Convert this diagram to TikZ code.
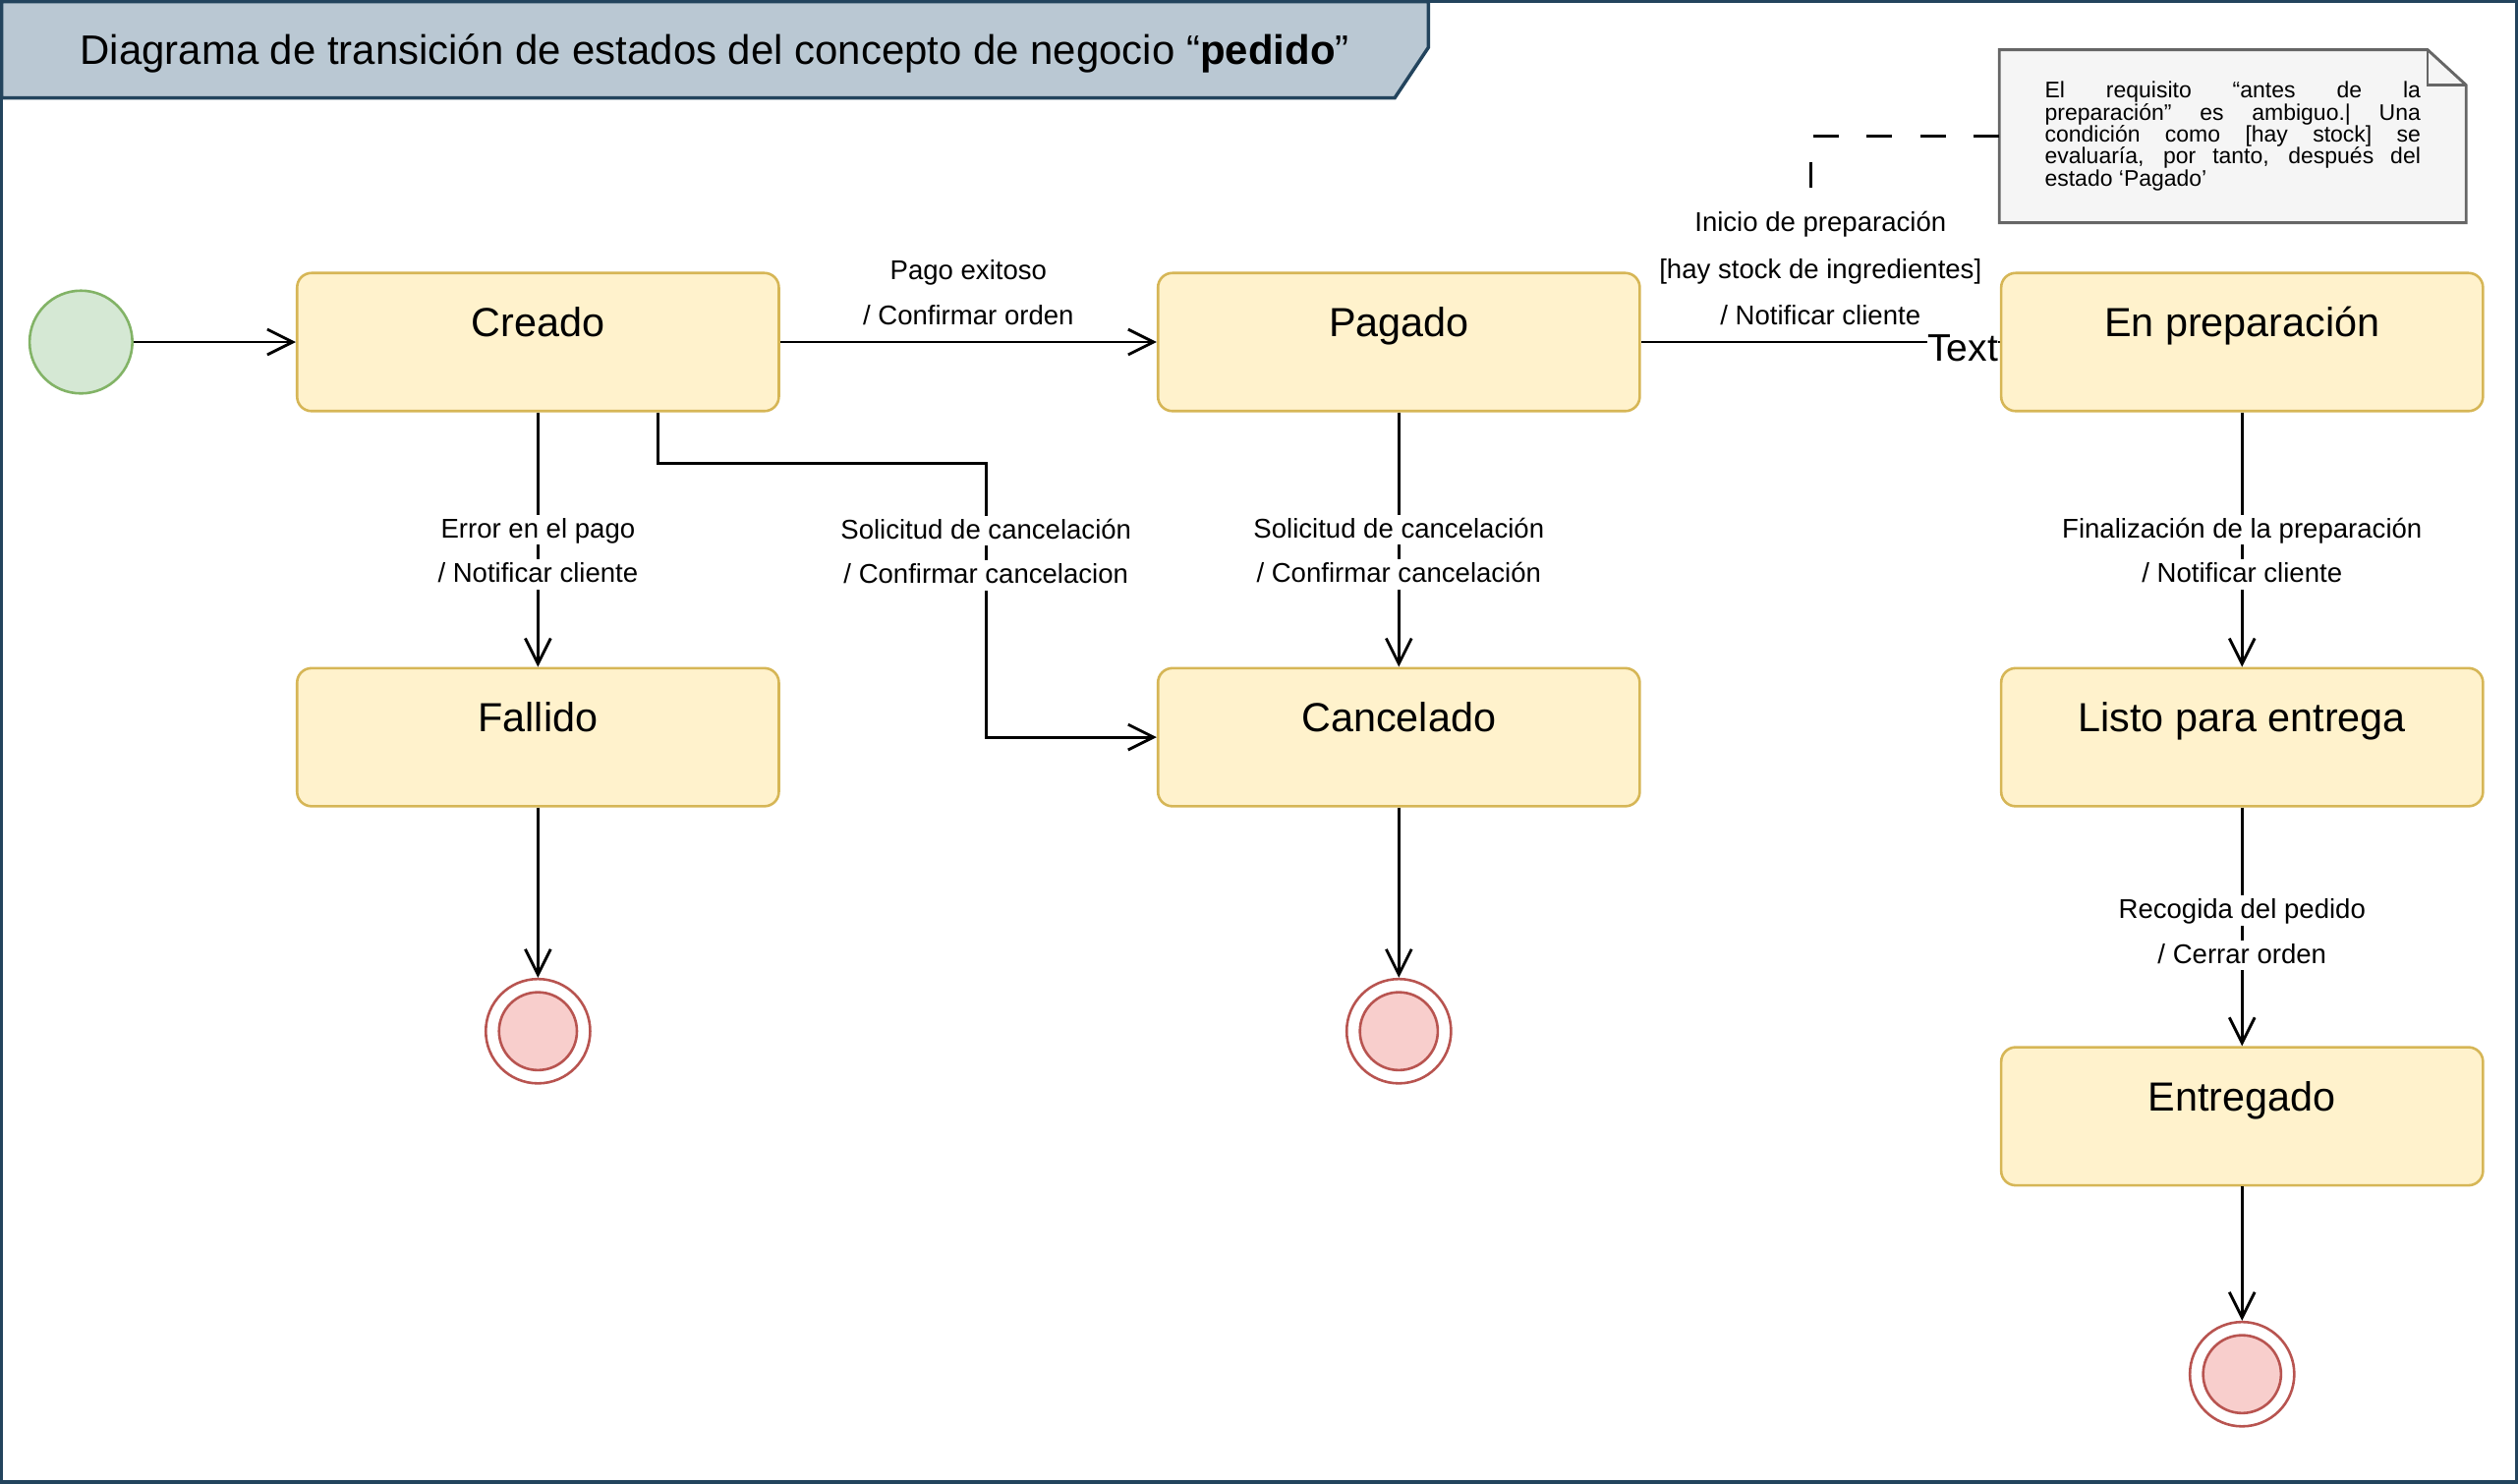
\documentclass[tikz,border=0pt]{standalone}
\usepackage{fontspec}
\setmainfont{Liberation Sans}
\usepackage{xcolor}
\usepackage{tikz}
\usetikzlibrary{arrows.meta, positioning, calc, backgrounds}

\definecolor{estadofill}{HTML}{FFF2CC}
\definecolor{estadoline}{HTML}{D6B656}
\definecolor{iniciofill}{HTML}{D5E8D4}
\definecolor{inicioline}{HTML}{82B366}
\definecolor{finfill}{HTML}{F8CECC}
\definecolor{finline}{HTML}{B85450}
\definecolor{titulofill}{HTML}{BAC8D3}
\definecolor{tituloline}{HTML}{23445D}
\definecolor{notafill}{HTML}{F5F5F5}
\definecolor{notaline}{HTML}{666666}

\begin{document}
\begin{tikzpicture}[
    estado/.style={rectangle, draw=estadoline, fill=estadofill, line width=0.9pt, rounded corners=0.18cm, minimum width=6.0cm, minimum height=1.72cm, inner sep=0pt, text height=0.79cm, text depth=0.93cm, font=\fontsize{14.4}{17}\selectfont},
    inicio/.style={circle, draw=inicioline, fill=iniciofill, line width=0.9pt, minimum size=1.28cm, inner sep=0pt},
    fin/.style={circle, draw=finline, fill=white, line width=0.9pt, minimum size=1.3cm, inner sep=0pt,
        path picture={\draw[finline, fill=finfill, line width=0.9pt] (path picture bounding box.center) circle (0.485cm);}},
    transicion/.style={-{Straight Barb[length=9pt, width=9pt]}, line width=1pt, color=black},
    etiqueta/.style={fill=white, inner xsep=1pt, inner ysep=0pt, text height=8.2pt, text depth=2.4pt, anchor=base, font=\fontsize{9.6}{11}\selectfont},
    nota/.style={draw=none, minimum width=5.8cm, minimum height=2.14cm, inner xsep=0.56cm, text width=4.68cm, align=justify, font=\fontsize{8}{7.8}\selectfont},
    enlace/.style={dash pattern=on 9pt off 10pt, line width=1pt}
]

    % --- Frame and title ---
    \useasboundingbox (0,0) rectangle (31.36,-18.48);
    \draw[tituloline, line width=1.2pt] (0.02,-0.02) rectangle (31.34,-18.46);
    \draw[tituloline, fill=titulofill, line width=1.2pt] (0.02,-0.02) -- (17.79,-0.02) -- (17.79,-0.59) -- (17.37,-1.22) -- (0.02,-1.22) -- cycle;
    \node[font=\fontsize{14.6}{17}\selectfont, anchor=base] (titulo) at (8.9,-0.80) {Diagrama de transición de estados del concepto de negocio “\textbf{pedido}”};

    % --- States ---
    \node[estado] (creado) at (6.70,-4.26) {Creado};
    \node[inicio, left=2.02cm of creado] (ini) {};
    \node[estado, right=4.69cm of creado] (pagado) {Pagado};
    \node[estado, right=4.47cm of pagado] (preparacion) {En preparación};

    \node[estado, below=3.17cm of creado] (fallido) {Fallido};
    \node[estado, below=3.17cm of pagado] (cancelado) {Cancelado};
    \node[estado, below=3.17cm of preparacion] (listo) {Listo para entrega};
    \node[estado, below=2.97cm of listo] (entregado) {Entregado};

    % Final states
    \node[fin, below=2.12cm of fallido] (fin1) {};
    \node[fin, below=2.12cm of cancelado] (fin2) {};
    \node[fin, below=1.67cm of entregado] (fin3) {};

    % --- Note ---
    \node[nota, anchor=north west] (nota) at (24.9,-0.62) {\tolerance=10000\relax\hbadness=10000\relax
        El requisito “antes de la\linebreak preparación” es ambiguo.| Una\linebreak condición como [hay stock] se\linebreak evaluaría, por tanto, después del\linebreak estado ‘Pagado’\par\vspace*{0.16cm}};

    % --- Transitions ---
    \draw[transicion] (ini) -- (creado);
    \draw[transicion] (creado) -- node[etiqueta, yshift=0.78cm] {Pago exitoso} node[etiqueta, yshift=0.21cm] {/ Confirmar orden} (pagado);

    \draw[transicion] (creado) -- node[etiqueta, pos=0.494] {Error en el pago} node[etiqueta, pos=0.669] {/ Notificar cliente} (fallido);
    \draw[transicion] ($(creado.south)+(1.5,0)$) -- ++(0,-0.64) -- ++(4.08,0) |- node[etiqueta, pos=0.137] {Solicitud de cancelación} node[etiqueta, pos=0.219] {/ Confirmar cancelacion} (cancelado.west);
    \draw[transicion] (pagado) -- node[etiqueta, pos=0.494] {Solicitud de cancelación} node[etiqueta, pos=0.669] {/ Confirmar cancelación} (cancelado);
    \draw[transicion] (preparacion) -- node[etiqueta, pos=0.494] {Finalización de la preparación} node[etiqueta, pos=0.669] {/ Notificar cliente} (listo);
    \draw[transicion] (listo) -- node[etiqueta, pos=0.467] {Recogida del pedido} node[etiqueta, pos=0.653] {/ Cerrar orden} (entregado);

    \draw[transicion] (fallido) -- (fin1);
    \draw[transicion] (cancelado) -- (fin2);
    \draw[transicion] (entregado) -- (fin3);

    % --- Behind the boxes ---
    \begin{scope}[on background layer]
        \draw[notaline, fill=notafill, line width=1pt] (nota.north west) -- ($(nota.north east)+(-0.48,0)$) -- ($(nota.north east)+(0,-0.44)$) -- (nota.south east) -- (nota.south west) -- cycle;
        \draw[notaline, line width=1pt] ($(nota.north east)+(-0.48,0)$) -- ($(nota.north east)+(-0.48,-0.44)$) -- ($(nota.north east)+(0,-0.44)$);
        \draw[line width=1pt] (pagado) -- node[etiqueta, yshift=1.38cm] (lblinicio) {Inicio de preparación} node[etiqueta, yshift=0.79cm] {[hay stock de ingredientes]} node[etiqueta, yshift=0.22cm] {/ Notificar cliente} (preparacion);
        \node[font=\fontsize{13.6}{15}\selectfont, fill=white, inner sep=0pt, anchor=base west] (txt) at (24.0,-4.50) {Text};
    \end{scope}

    \draw[enlace] (nota.west) -| ($(lblinicio.north)+(-0.12,0)$);

\end{tikzpicture}
\end{document}
